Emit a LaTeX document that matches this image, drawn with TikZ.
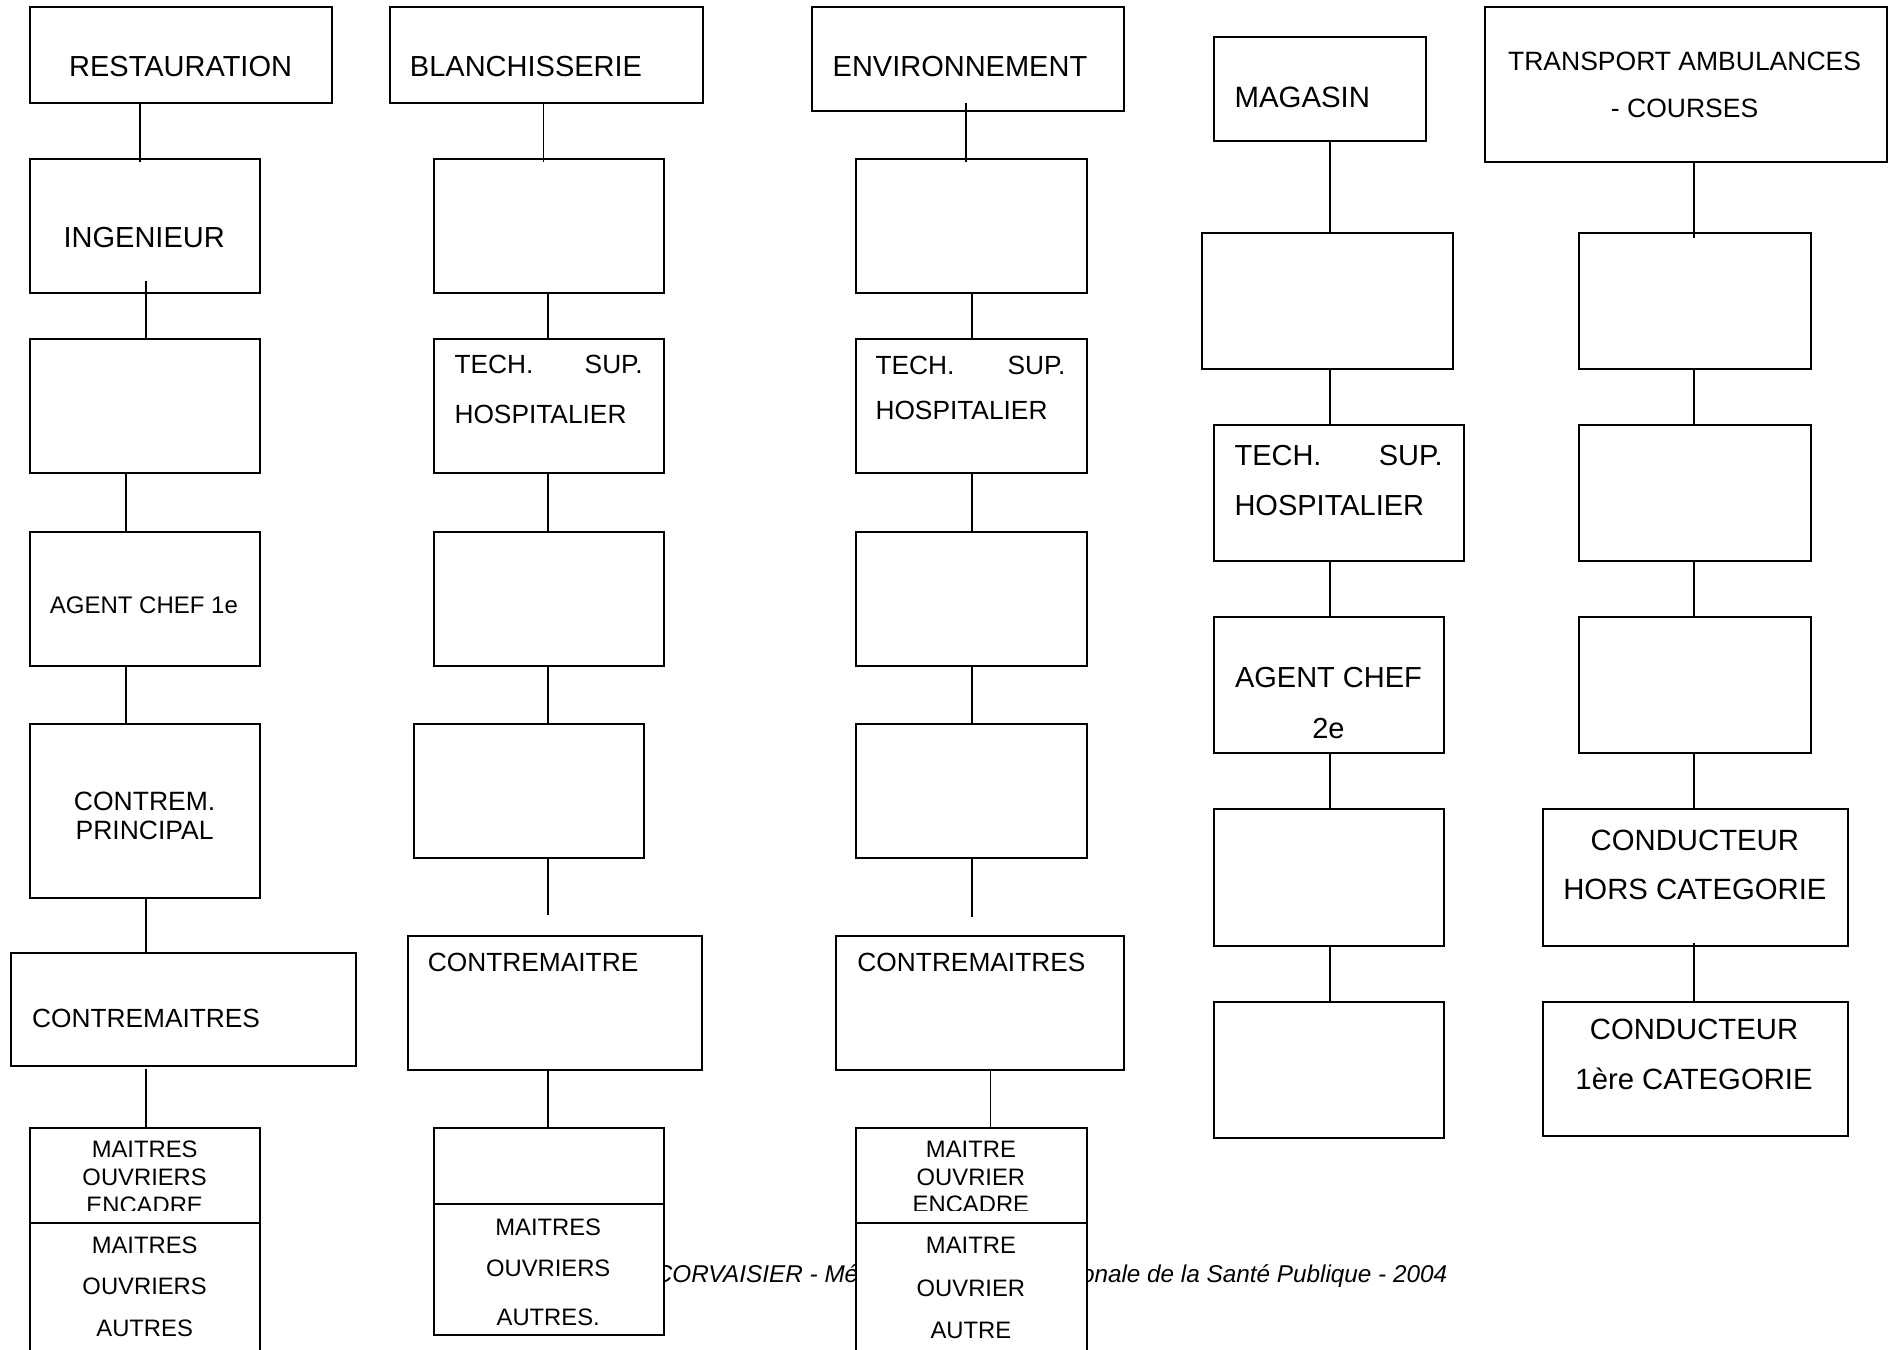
\documentclass[tikz,border=0pt]{standalone}
\usepackage{fontspec}
\setmainfont{Liberation Sans}
\usetikzlibrary{calc}
\newcommand{\fsz}[2]{\fontsize{#1}{#2}\selectfont}
\newcommand{\bx}[5]{\node[box, minimum width={(#4-(#2))*1.2105pt}, minimum height={(#5-(#3))*1.2105pt}] (#1) at (#2,#3) {};}
\newcommand{\cn}[5]{\draw[conn] ($(#1.south -| #3)+(0,#4)$) -- ($(#2.north -| #3)+(0,#5)$);}
\begin{document}
\begin{tikzpicture}[x=1.2105pt, y=-1.2105pt,
  box/.style={draw, fill=white, line width=2pt, inner sep=0pt, outer sep=0pt, anchor=north west},
  conn/.style={line width=1.9pt},
  txt/.style={inner sep=0pt, outer sep=0pt}]
\useasboundingbox (0,0) rectangle (1568,1115);
\clip (0,0) rectangle (1568,1115);

% footer (partly hidden by boxes)
\node[txt, font=\itshape\fsz{24.3}{29}, anchor=base east] (foot) at (1195.6,1059.5) {CORVAISIER - Mémoire de l'Ecole Nationale de la Santé Publique - 2004};

% column 1
\bx{b11}{24.6}{6.1}{274.2}{85.4}
\bx{b12}{24.6}{131.6}{214.7}{242.3}
\bx{b13}{24.6}{280.3}{214.7}{391}
\bx{b14}{24.6}{439.2}{214.7}{549.9}
\bx{b15}{24.6}{597.8}{214.7}{741.6}
\bx{b16}{9.5}{787.5}{294}{880.4}
\bx{b17}{24.6}{932}{214.7}{1010.6}
\bx{b18}{24.6}{1010.6}{214.7}{1130}
% column 2
\bx{b21}{322}{6.1}{580.4}{85.4}
\bx{b22}{358.4}{131.6}{548.5}{242.3}
\bx{b23}{358.4}{280.3}{548.5}{391}
\bx{b24}{358.4}{439.2}{548.5}{549.9}
\bx{b25}{341.8}{597.8}{532.2}{708.5}
\bx{b26}{336.8}{773}{580.3}{884}
\bx{b27}{358.4}{932}{548.5}{994.6}
\bx{b28}{358.4}{994.6}{548.5}{1103}
% column 3
\bx{b31}{670.5}{5.5}{928.6}{91.7}
\bx{b32}{707.2}{131.6}{897.7}{242.3}
\bx{b33}{707.2}{280.3}{897.7}{391}
\bx{b34}{707.2}{439.2}{897.7}{549.9}
\bx{b35}{707.2}{597.8}{897.7}{708.5}
\bx{b36}{691}{773}{928.6}{884}
\bx{b37}{707.2}{932}{897.7}{1010.6}
\bx{b38}{707.2}{1010.6}{897.7}{1130}
% column 4
\bx{b41}{1002.6}{30.8}{1178.2}{116.7}
\bx{b42}{992.6}{192.7}{1200}{305.1}
\bx{b43}{1002.6}{351.1}{1209.8}{463.7}
\bx{b44}{1002.6}{510}{1193.1}{622.3}
\bx{b45}{1002.6}{668.3}{1193.1}{781.2}
\bx{b46}{1002.6}{827.5}{1193.1}{939.8}
% column 5
\bx{b51}{1226.6}{6}{1558.7}{133.6}
\bx{b52}{1304.2}{192.7}{1496}{305.1}
\bx{b53}{1304.2}{351.1}{1496}{463.7}
\bx{b54}{1304.2}{510}{1496}{622.3}
\bx{b55}{1274.4}{668.3}{1527}{781.2}
\bx{b56}{1274.4}{827.5}{1527}{938.5}

% x positions of connectors
\coordinate (xa) at (115.7,0);
\coordinate (xb) at (120.6,0);
\coordinate (xc) at (104.3,0);
\coordinate (xd) at (449,0);
\coordinate (xe) at (453,0);
\coordinate (xf) at (798.4,0);
\coordinate (xg) at (802.7,0);
\coordinate (xh) at (818.3,0);
\coordinate (xi) at (1098.8,0);
\coordinate (xj) at (1399.8,0);

% connectors
\cn{b11}{b12}{xa}{0}{2}
\cn{b12}{b13}{xb}{-10.2}{0}
\cn{b13}{b14}{xc}{0}{0}
\cn{b14}{b15}{xc}{0}{0}
\cn{b15}{b16}{xb}{0}{0}
\cn{b16}{b17}{xb}{3}{0}

\cn{b21}{b22}{xd}{0}{2}
\cn{b22}{b23}{xe}{0}{0}
\cn{b23}{b24}{xe}{0}{0}
\cn{b24}{b25}{xe}{0}{0}
\cn{b25}{b26}{xe}{0}{-17.5}
\cn{b26}{b27}{xe}{0}{0}

\cn{b31}{b32}{xf}{-6.9}{2}
\cn{b32}{b33}{xg}{0}{0}
\cn{b33}{b34}{xg}{0}{0}
\cn{b34}{b35}{xg}{0}{0}
\cn{b35}{b36}{xg}{0}{-15.7}
\cn{b36}{b37}{xh}{0}{0}

\cn{b41}{b42}{xi}{0}{0}
\cn{b42}{b43}{xi}{0}{0}
\cn{b43}{b44}{xi}{0}{0}
\cn{b44}{b45}{xi}{0}{0}
\cn{b45}{b46}{xi}{0}{0}

\cn{b51}{b52}{xj}{0}{3.6}
\cn{b52}{b53}{xj}{0}{0}
\cn{b53}{b54}{xj}{0}{0}
\cn{b54}{b55}{xj}{0}{0}
\cn{b55}{b56}{xj}{-2}{0}

% texts column 1
\node[txt, font=\fsz{29}{35}] (t11) at (149.2,55.3) {RESTAURATION};
\node[txt, font=\fsz{29}{35}] (t12) at (119.1,196.6) {INGENIEUR};
\node[txt, font=\fsz{24}{29}] (t14) at (118.9,500.2) {AGENT CHEF 1e};
\node[txt, font=\fsz{26.5}{28.7}, align=center] (t15) at (119.5,674.2) {CONTREM.\\PRINCIPAL};
\node[txt, font=\fsz{26.3}{32}, anchor=west] (t16) at (26.5,841.5) {CONTREMAITRES};
\begin{scope}
\clip (24.6,932) rectangle (214.7,1000.3);
\node[txt, font=\fsz{23.8}{27.7}, align=center] (t17) at (119.5,972.5) {MAITRES\\OUVRIERS\\ENCADRE};
\end{scope}
\node[txt, font=\fsz{23.8}{41.5}, align=center] (t18) at (119.5,1063) {MAITRES\\OUVRIERS\\AUTRES};

% texts column 2
\node[txt, font=\fsz{29}{35}, anchor=west] (t21) at (338.7,55.3) {BLANCHISSERIE};
\node[txt, font=\fsz{26.3}{49.4}, anchor=west, align=left] (t23) at (375.5,321.6) {\hbox to 188.2pt{TECH.\hfil SUP.}\\HOSPITALIER};
\node[txt, font=\fsz{26.3}{32}, anchor=west] (t26) at (353.5,795.1) {CONTREMAITRE};
\node[txt, font=\fsz{23.8}{40.8}, align=center] (t28) at (452.9,1050.9) {MAITRES\\OUVRIERS\\[8.5pt]AUTRES.};

% texts column 3
\node[txt, font=\fsz{29}{35}, anchor=west] (t31) at (687.9,55.1) {ENVIRONNEMENT};
\node[txt, font=\fsz{26.3}{45.5}, anchor=west, align=left] (t33) at (723.3,320.6) {\hbox to 190pt{TECH.\hfil SUP.}\\HOSPITALIER};
\node[txt, font=\fsz{26.3}{32}, anchor=west] (t36) at (708.4,795.1) {CONTREMAITRES};
\begin{scope}
\clip (707.2,932) rectangle (897.7,1000.3);
\node[txt, font=\fsz{23.8}{27.7}, align=center] (t37) at (802.1,972.5) {MAITRE\\OUVRIER\\ENCADRE};
\end{scope}
\node[txt, font=\fsz{23.8}{42.5}, align=center] (t38) at (802.1,1064) {MAITRE\\OUVRIER\\AUTRE};

% texts column 4
\node[txt, font=\fsz{29.4}{35}, anchor=west] (t41) at (1019.9,80.1) {MAGASIN};
\node[txt, font=\fsz{29}{49.9}, anchor=west, align=left] (t43) at (1019.9,396.9) {\hbox to 208.2pt{TECH.\hfil SUP.}\\HOSPITALIER};
\node[txt, font=\fsz{29}{50.8}, align=center] (t44) at (1097.5,580.7) {AGENT CHEF\\2e};

% texts column 5
\node[txt, font=\fsz{26.5}{46.5}, align=center] (t51) at (1391.7,70.2) {TRANSPORT AMBULANCES\\- COURSES};
\node[txt, font=\fsz{29.3}{49.4}, align=center] (t55) at (1400.2,714.4) {CONDUCTEUR\\HORS CATEGORIE};
\node[txt, font=\fsz{29.3}{50}, align=center] (t56) at (1399.5,870.9) {CONDUCTEUR\\1ère CATEGORIE};
\end{tikzpicture}
\end{document}
